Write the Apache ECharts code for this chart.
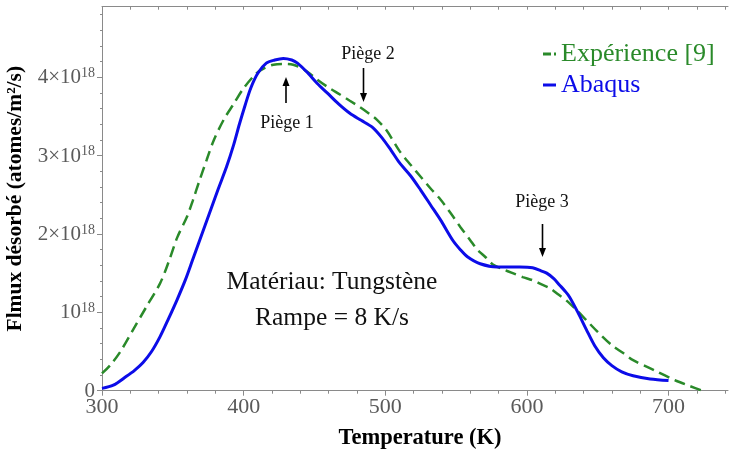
<!DOCTYPE html>
<html>
<head>
<meta charset="utf-8">
<script src="https://cdn.jsdelivr.net/npm/echarts@6/dist/echarts.min.js"></script>
<style>
  html, body { margin: 0; padding: 0; background: #fff; }
  #chart { width: 730px; height: 453px; }
</style>
</head>
<body>
<div id="chart"></div>
<script>
// ---- Data (flux in units of 1e18 atomes/m²/s) ----
const tempAbaqus = [300, 308, 317, 323, 329, 335, 341, 347, 353, 359, 364, 370, 376, 382, 388, 393, 397, 401, 405, 410, 416, 422, 428, 434, 438, 445, 452, 459, 467, 475, 483, 491, 498, 504, 510, 518, 525, 532, 539, 548, 553, 558, 567, 579, 587, 595, 604, 610, 614, 619, 623, 627, 630, 636, 642, 648, 654, 660, 667, 675, 687, 700];
const fluxAbaqus = [0.03, 0.07, 0.18, 0.26, 0.36, 0.50, 0.69, 0.92, 1.16, 1.42, 1.67, 1.97, 2.27, 2.57, 2.86, 3.14, 3.40, 3.64, 3.86, 4.05, 4.18, 4.22, 4.24, 4.22, 4.18, 4.06, 3.92, 3.80, 3.66, 3.54, 3.45, 3.36, 3.22, 3.07, 2.91, 2.74, 2.56, 2.37, 2.18, 1.91, 1.80, 1.71, 1.62, 1.58, 1.58, 1.58, 1.57, 1.53, 1.50, 1.43, 1.35, 1.27, 1.20, 1.00, 0.78, 0.57, 0.42, 0.32, 0.24, 0.19, 0.15, 0.13];

const tempExp = [300, 306, 313, 322, 331, 341, 347, 353, 360, 364, 369, 374, 379, 386, 393, 400, 409, 415, 421, 428, 435, 445, 452, 459, 468, 475, 482, 489, 494, 501, 510, 518, 525, 532, 539, 546, 553, 560, 565, 571, 576, 583, 590, 597, 604, 610, 616, 622, 628, 635, 642, 650, 660, 668, 675, 690, 705, 715, 724];
const fluxExp = [0.22, 0.33, 0.50, 0.78, 1.06, 1.37, 1.64, 1.95, 2.22, 2.42, 2.69, 2.95, 3.20, 3.46, 3.66, 3.86, 4.05, 4.12, 4.16, 4.17, 4.16, 4.07, 3.97, 3.88, 3.78, 3.70, 3.62, 3.53, 3.46, 3.32, 3.06, 2.88, 2.73, 2.58, 2.44, 2.27, 2.09, 1.92, 1.80, 1.70, 1.61, 1.55, 1.50, 1.45, 1.41, 1.36, 1.31, 1.23, 1.15, 1.03, 0.90, 0.75, 0.58, 0.48, 0.39, 0.26, 0.13, 0.06, 0.00];

const seriesNames = ['Expérience [9]', 'Abaqus'];
const xMajorTicks = [300, 400, 500, 600, 700];
const xMinorTicks = [320, 340, 360, 380, 420, 440, 460, 480, 520, 540, 560, 580, 620, 640, 660, 680, 720, 740];
const xAllTicks = [300, 320, 340, 360, 380, 400, 420, 440, 460, 480, 500, 520, 540, 560, 580, 600, 620, 640, 660, 680, 700, 720, 740];
const yMajorTicks = [0, 1, 2, 3, 4];
const yMinorTicks = [0.2, 0.4, 0.6, 0.8, 1.2, 1.4, 1.6, 1.8, 2.2, 2.4, 2.6, 2.8, 3.2, 3.4, 3.6, 3.8, 4.2, 4.4, 4.6, 4.8];
const xAxisTitle = 'Temperature (K)';
const yAxisTitle = 'Flmux désorbé (atomes/m²/s)';
const annotationTexts = ['Piège 1', 'Piège 2', 'Piège 3', 'Matériau: Tungstène', 'Rampe = 8 K/s'];

const SERIF = "'Liberation Serif', 'DejaVu Serif', 'Times New Roman', serif";
const AXIS_GRAY = '#8a8a8a';
const LABEL_GRAY = '#5a5a5a';
const GREEN = '#2a8a2a';
const BLUE = '#0c0ce8';

const X_MIN = 300, X_MAX = 742, Y_MIN = 0, Y_MAX = 4.9;

const chart = echarts.init(document.getElementById('chart'), null, { renderer: 'canvas' });

function yLabel(v) {
  if (Math.abs(v) < 1e-9) return '{n|0}';
  if (Math.abs(v - 1) < 1e-9) return '{n|10}{s|18}';
  return '{n|' + Math.round(v) + '×10}{s|18}';
}

const richY = {
  n: { fontSize: 21, fontFamily: SERIF, color: LABEL_GRAY, verticalAlign: 'bottom', lineHeight: 22 },
  s: { fontSize: 14, fontFamily: SERIF, color: LABEL_GRAY, verticalAlign: 'top', lineHeight: 14, padding: [0, 0, 10, 0] }
};

function arrow(x, y1, y2) {
  const dir = y2 > y1 ? 1 : -1;
  const headLen = 9, headHalf = 3.5;
  return [
    { type: 'line', shape: { x1: x, y1: y1, x2: x, y2: y2 - dir * headLen + dir * 1 }, style: { stroke: '#000', lineWidth: 1.6 } },
    { type: 'polygon', shape: { points: [[x - headHalf, y2 - dir * headLen], [x + headHalf, y2 - dir * headLen], [x, y2]] }, style: { fill: '#000' } }
  ];
}

const annoStyle = (txt, x, y, size) => ({
  type: 'text', x: x, y: y,
  style: { text: txt, font: size + 'px ' + SERIF, fill: '#111', textAlign: 'center', textVerticalAlign: 'middle' }
});

const baseX = { type: 'value', min: X_MIN, max: X_MAX, splitLine: { show: false } };
const baseY = { type: 'value', min: Y_MIN, max: Y_MAX, splitLine: { show: false } };

const option = {
  animation: false,
  backgroundColor: '#fff',
  grid: { left: 102, top: 6.7, width: 626, height: 384, containLabel: false, outerBoundsMode: 'none' },
  legend: {
    orient: 'vertical',
    left: 538, top: 36,
    itemGap: 5,
    itemWidth: 13, itemHeight: 3,
    data: [
      { name: seriesNames[0], icon: 'path://M0,0H8V3H0Z M11,0H13V3H11Z', textStyle: { color: GREEN } },
      { name: seriesNames[1], icon: 'path://M0,0H13V3H0Z', textStyle: { color: BLUE } }
    ],
    textStyle: { fontFamily: SERIF, fontSize: 26, lineHeight: 26, padding: [0, 0, 0, 0] },
    itemStyle: { borderWidth: 0 },
    lineStyle: { width: 0 }
  },
  xAxis: [
    Object.assign({}, baseX, {
      position: 'bottom',
      axisLine: { show: true, onZero: false, lineStyle: { color: AXIS_GRAY, width: 1 } },
      axisTick: { show: true, inside: false, length: 5, lineStyle: { color: AXIS_GRAY }, customValues: xMajorTicks },
      axisLabel: { fontFamily: SERIF, fontSize: 22, color: LABEL_GRAY, margin: 6, customValues: xMajorTicks }
    }),
    Object.assign({}, baseX, {
      position: 'bottom',
      axisLine: { show: false },
      axisTick: { show: true, inside: false, length: 3, lineStyle: { color: AXIS_GRAY }, customValues: xMinorTicks },
      axisLabel: { show: false }
    }),
    Object.assign({}, baseX, {
      position: 'top',
      axisLine: { show: true, onZero: false, lineStyle: { color: AXIS_GRAY, width: 1 } },
      axisTick: { show: true, inside: true, length: 3, lineStyle: { color: AXIS_GRAY }, customValues: xAllTicks },
      axisLabel: { show: false }
    })
  ],
  yAxis: [
    Object.assign({}, baseY, {
      position: 'left',
      axisLine: { show: true, onZero: false, lineStyle: { color: AXIS_GRAY, width: 1 } },
      axisTick: { show: true, inside: false, length: 5, lineStyle: { color: AXIS_GRAY }, customValues: yMajorTicks },
      axisLabel: { customValues: yMajorTicks, formatter: yLabel, rich: richY, margin: 7 },
      name: yAxisTitle, nameLocation: 'middle', nameGap: 71, nameRotate: 90,
      nameTextStyle: { fontFamily: SERIF, fontSize: 21.5, fontWeight: 'bold', color: '#000' }
    }),
    Object.assign({}, baseY, {
      position: 'left',
      axisLine: { show: false },
      axisTick: { show: true, inside: false, length: 2, lineStyle: { color: AXIS_GRAY }, customValues: yMinorTicks },
      axisLabel: { show: false }
    })
  ],
  series: [
    {
      name: seriesNames[0], type: 'line', xAxisIndex: 0, yAxisIndex: 0,
      data: tempExp.map((t, i) => [t, fluxExp[i]]),
      showSymbol: false, smooth: 0.3,
      lineStyle: { color: GREEN, width: 2.5, type: [11, 6] },
      itemStyle: { color: GREEN }
    },
    {
      name: seriesNames[1], type: 'line', xAxisIndex: 0, yAxisIndex: 0,
      data: tempAbaqus.map((t, i) => [t, fluxAbaqus[i]]),
      showSymbol: false, smooth: 0.3,
      lineStyle: { color: BLUE, width: 3 },
      itemStyle: { color: BLUE }
    }
  ],
  graphic: [
    { type: 'text', x: 420, y: 438, style: { text: xAxisTitle, font: 'bold 22.5px ' + SERIF, fill: '#000', textAlign: 'center', textVerticalAlign: 'middle' } },
    annoStyle(annotationTexts[0], 287, 123, 18),
    ...arrow(286, 103, 77),
    annoStyle(annotationTexts[1], 368, 54, 18),
    ...arrow(363.5, 68, 102),
    annoStyle(annotationTexts[2], 542, 202, 18),
    ...arrow(542.5, 224, 257),
    annoStyle(annotationTexts[3], 332, 282, 25.5),
    annoStyle(annotationTexts[4], 332, 318, 25.5)
  ]
};

chart.setOption(option);
</script>
</body>
</html>
